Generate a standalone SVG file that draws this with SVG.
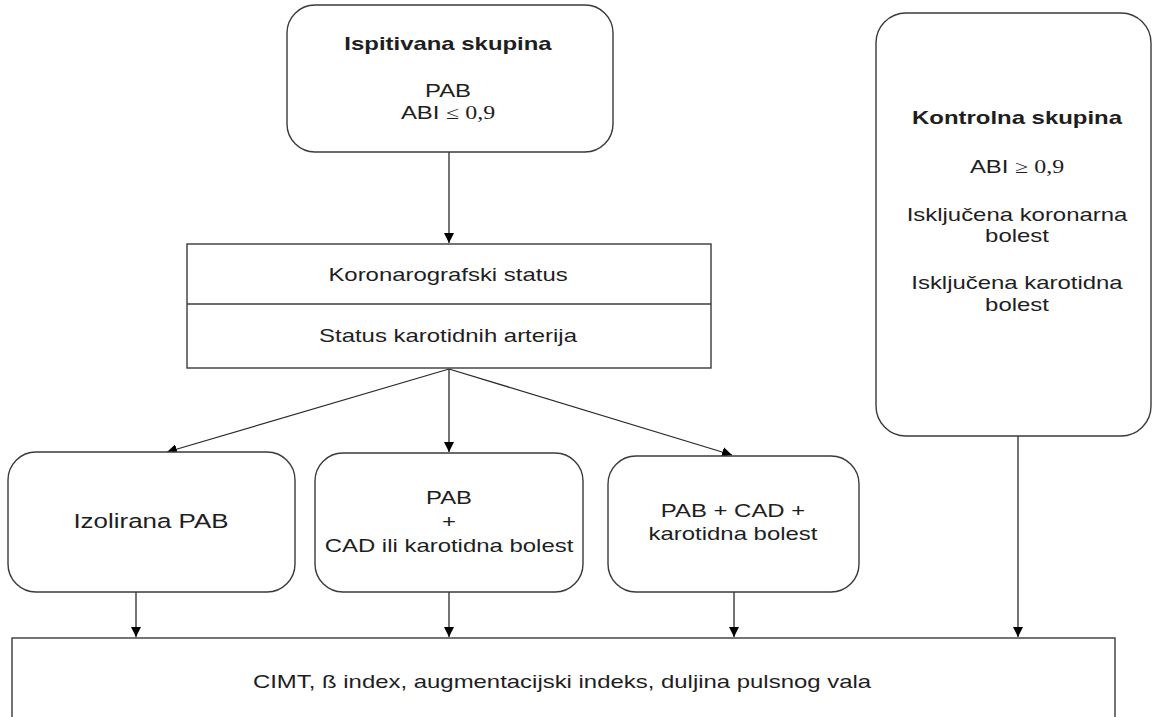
<svg xmlns="http://www.w3.org/2000/svg" width="1152" height="717" viewBox="0 0 1152 717">
<style>
.box{fill:#fff;stroke:#3a3a3a;stroke-width:1.4}
.t{font-family:"Liberation Sans",Arial,sans-serif;font-size:18px;fill:#1e1e1e;text-anchor:middle}
.b{font-weight:bold}
.m{font-family:"Liberation Serif","Times New Roman",serif}
.c{fill:none;stroke:#2a2a2a;stroke-width:1.3}
</style>
<defs>
<marker id="ah" viewBox="0 0 10 10" refX="10" refY="5" markerWidth="10" markerHeight="10" markerUnits="userSpaceOnUse" orient="auto">
<path d="M0,0 L10,5 L0,10 Z" fill="#000"/>
</marker>
</defs>
<rect width="1152" height="717" fill="#fff"/>

<g id="connectors">
<line class="c" x1="449" y1="152" x2="449" y2="243" marker-end="url(#ah)"/>
<line class="c" x1="449" y1="369" x2="167" y2="452" marker-end="url(#ah)"/>
<line class="c" x1="449" y1="369" x2="449" y2="452" marker-end="url(#ah)"/>
<line class="c" x1="449" y1="369" x2="732" y2="455" marker-end="url(#ah)"/>
<line class="c" x1="136" y1="592" x2="136" y2="637" marker-end="url(#ah)"/>
<line class="c" x1="449" y1="592" x2="449" y2="637" marker-end="url(#ah)"/>
<line class="c" x1="734" y1="592" x2="734" y2="637" marker-end="url(#ah)"/>
<line class="c" x1="1018" y1="436" x2="1018" y2="637" marker-end="url(#ah)"/>
</g>

<g id="ispitivana">
<rect class="box" x="287" y="5" width="326" height="147" rx="28" ry="28"/>
<text class="t b" transform="translate(448,50) scale(1.33,1)">Ispitivana skupina</text>
<text class="t" transform="translate(448,97) scale(1.33,1)">PAB</text>
<text class="t" transform="translate(448,119) scale(1.33,1)">ABI <tspan class="m">≤ 0,9</tspan></text>
</g>

<g id="kontrolna">
<rect class="box" x="876" y="13" width="275" height="423" rx="30" ry="30"/>
<text class="t b" transform="translate(1017,124) scale(1.33,1)">Kontrolna skupina</text>
<text class="t" transform="translate(1017,173) scale(1.33,1)">ABI <tspan class="m">≥ 0,9</tspan></text>
<text class="t" transform="translate(1017,221) scale(1.33,1)">Isključena koronarna</text>
<text class="t" transform="translate(1017,242) scale(1.33,1)">bolest</text>
<text class="t" transform="translate(1017,289) scale(1.33,1)">Isključena karotidna</text>
<text class="t" transform="translate(1017,311) scale(1.33,1)">bolest</text>
</g>

<g id="status">
<rect class="box" x="187" y="244" width="524" height="124"/>
<line class="box" x1="187" y1="304" x2="711" y2="304"/>
<text class="t" transform="translate(448,281) scale(1.33,1)">Koronarografski status</text>
<text class="t" transform="translate(448,342) scale(1.33,1)">Status karotidnih arterija</text>
</g>

<g id="izolirana">
<rect class="box" x="8" y="452" width="287" height="140" rx="28" ry="28"/>
<text class="t" style="font-size:19.5px" transform="translate(151,528) scale(1.33,1)">Izolirana PAB</text>
</g>

<g id="pab-cad">
<rect class="box" x="315" y="453" width="268" height="139" rx="28" ry="28"/>
<text class="t" transform="translate(449,504) scale(1.33,1)">PAB</text>
<text class="t" transform="translate(449,528) scale(1.33,1)">+</text>
<text class="t" transform="translate(449,552) scale(1.33,1)">CAD ili karotidna bolest</text>
</g>

<g id="pab-cad-karotidna">
<rect class="box" x="608" y="456" width="251" height="136" rx="28" ry="28"/>
<text class="t" transform="translate(733,517) scale(1.33,1)">PAB + CAD +</text>
<text class="t" transform="translate(733,540) scale(1.33,1)">karotidna bolest</text>
</g>

<g id="mjerenja">
<rect class="box" x="12" y="638" width="1103" height="100"/>
<text class="t" transform="translate(562,688) scale(1.33,1)">CIMT, ß index, augmentacijski indeks, duljina pulsnog vala</text>
</g>
</svg>
